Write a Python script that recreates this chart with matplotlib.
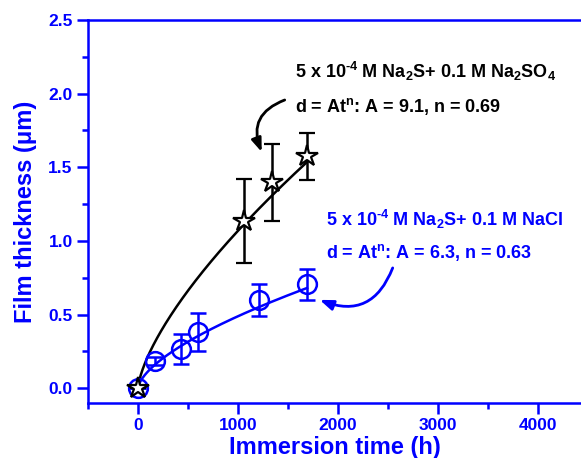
import numpy as np
import matplotlib
matplotlib.use("Agg")
import matplotlib.pyplot as plt

plt.rcParams['font.family'] = ['Liberation Sans', 'DejaVu Sans']
plt.rcParams['font.weight'] = 'bold'
plt.rcParams['mathtext.fontset'] = 'custom'
plt.rcParams['mathtext.rm'] = 'Liberation Sans:bold'
plt.rcParams['mathtext.it'] = 'Liberation Sans:bold'
plt.rcParams['mathtext.bf'] = 'Liberation Sans:bold'

BLUE = '#0000ff'

# NaCl series (blue circles)
t_nacl = [0, 165, 434, 600, 1210, 1690]
d_nacl = [0.0, 0.185, 0.267, 0.38, 0.60, 0.706]
e_nacl = [0.0, 0.03, 0.10, 0.13, 0.11, 0.107]
A_nacl, n_nacl = 6.3, 0.63

# Na2SO4 series (black stars)
t_so4 = [0, 1060, 1340, 1690]
d_so4 = [0.0, 1.138, 1.398, 1.575]
e_so4 = [0.0, 0.285, 0.26, 0.16]
A_so4, n_so4 = 9.1, 0.69

fig = plt.figure(figsize=(5.81, 4.58), dpi=100)
ax = fig.add_axes([88/581, 1-403/458, 1-88/581, (403-20)/458])

# fit curves d = A t^n (nm -> um)
tt = np.linspace(0, max(t_nacl), 300)
ax.plot(tt, A_nacl*tt**n_nacl/1000, color=BLUE, lw=1.8, zorder=2)
tt2 = np.linspace(0, max(t_so4), 300)
ax.plot(tt2, A_so4*tt2**n_so4/1000, color='black', lw=1.8, zorder=2)

ax.errorbar(t_nacl, d_nacl, yerr=e_nacl, fmt='o', ms=13.5, mfc='none', mec=BLUE,
            mew=1.8, ecolor=BLUE, elinewidth=1.8, capsize=6, capthick=1.8, zorder=3)
ax.errorbar(t_so4, d_so4, yerr=e_so4, fmt='*', ms=16, mfc='white', mec='black',
            mew=1.6, ecolor='black', elinewidth=1.8, capsize=6, capthick=1.8, zorder=4)

ax.set_xlim(-500, 4430)
ax.set_ylim(-0.1, 2.5)
ax.set_xticks([0, 1000, 2000, 3000, 4000])
ax.set_xticks(np.arange(-500, 4500, 500), minor=True)
ax.set_yticks([0.0, 0.5, 1.0, 1.5, 2.0, 2.5])
ax.set_yticks(np.arange(0, 2.6, 0.25), minor=True)
ax.set_yticklabels(['0.0', '0.5', '1.0', '1.5', '2.0', '2.5'])

for s in ['left', 'bottom', 'top']:
    ax.spines[s].set_color(BLUE)
    ax.spines[s].set_linewidth(1.8)
ax.spines['right'].set_visible(False)
ax.tick_params(which='major', direction='out', length=8, width=1.8, color=BLUE,
               labelcolor=BLUE, labelsize=12.5, pad=3)
ax.tick_params(which='minor', direction='out', length=4, width=1.8, color=BLUE)
ax.tick_params(top=False, right=False)
for lab in ax.get_xticklabels() + ax.get_yticklabels():
    lab.set_fontweight('bold')

ax.set_xlabel('Immersion time (h)', color=BLUE, fontsize=17, fontweight='bold', labelpad=2)
ax.set_ylabel('Film thickness (μm)', color=BLUE, fontsize=17, fontweight='bold', labelpad=8)

ax.text(1567, 2.148, r'5 x 10$^{‐4}$ M Na$_2$S+ 0.1 M Na$_2$SO$_4$', color='black',
        fontsize=13, fontweight='bold', va='center', ha='left')
ax.text(1567, 1.91, r'd = At$^{n}$: A = 9.1, n = 0.69', color='black',
        fontsize=13, fontweight='bold', va='center', ha='left')
ax.text(1877, 1.143, r'5 x 10$^{‐4}$ M Na$_2$S+ 0.1 M NaCl', color=BLUE,
        fontsize=13, fontweight='bold', va='center', ha='left')
ax.text(1877, 0.919, r'd = At$^{n}$: A = 6.3, n = 0.63', color=BLUE,
        fontsize=13, fontweight='bold', va='center', ha='left')

ax.annotate('', xy=(1237, 1.604), xytext=(1467, 1.957),
            arrowprops=dict(arrowstyle='-|>,head_length=0.8,head_width=0.3', color='black',
                            lw=2, connectionstyle='arc3,rad=0.5', shrinkA=0, shrinkB=0))
ax.annotate('', xy=(1817, 0.60), xytext=(2547, 0.817),
            arrowprops=dict(arrowstyle='-|>,head_length=0.8,head_width=0.3', color=BLUE,
                            lw=2, connectionstyle='arc3,rad=-0.5', shrinkA=0, shrinkB=0))

fig.savefig('out.png', dpi=100)
